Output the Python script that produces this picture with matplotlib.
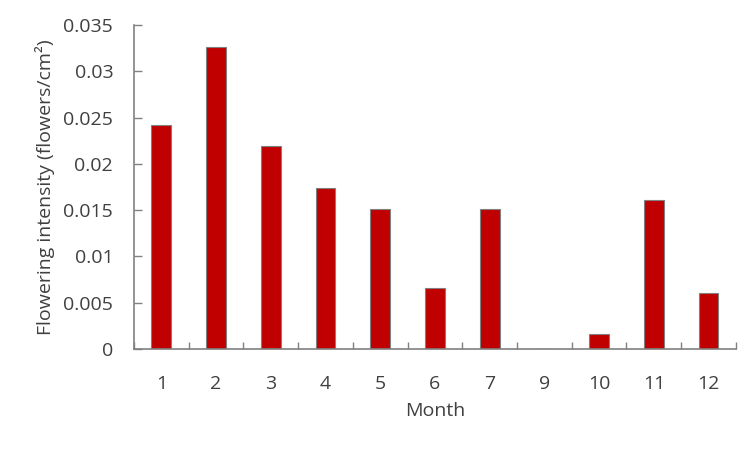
import numpy as np
import matplotlib.pyplot as plt

# 数据
months = ['1', '2', '3', '4', '5', '6', '7', '9', '10', '11', '12']
intensity = [0.0242, 0.0326, 0.0219, 0.0174, 0.0151, 0.0066, 0.0151,
             0.0, 0.0016, 0.0161, 0.0060]

plt.rcParams['font.family'] = ['Open Sans', 'DejaVu Sans']
plt.rcParams['font.size'] = 14
txt_color = '#404040'
axis_color = '#808080'

fig = plt.figure(figsize=(7.54, 4.53), dpi=100)
ax = fig.add_axes([0.1777, 0.2296, 0.7983, 0.7152])

x = np.arange(len(months))
ax.bar(x, intensity, width=0.36, color='#C00000', edgecolor='#808080', linewidth=0.8)

ax.set_xlim(-0.5, len(months) - 0.5)
ax.set_ylim(0, 0.035)
ax.set_yticks(np.arange(0, 0.0351, 0.005))
ax.set_yticklabels(['0', '0.005', '0.01', '0.015', '0.02', '0.025', '0.03', '0.035'])

# x轴刻度在类别之间, 标签在类别中心
ax.set_xticks(x)
ax.set_xticklabels(months)
ax.set_xticks(np.arange(-0.5, len(months)), minor=True)
ax.tick_params(axis='x', which='major', length=0, pad=19, colors=txt_color)
ax.tick_params(axis='x', which='minor', direction='in', length=5, color=axis_color, width=1)
ax.tick_params(axis='y', direction='in', length=6, color=axis_color, width=1, pad=15,
               labelcolor=txt_color)

for s in ['top', 'right']:
    ax.spines[s].set_visible(False)
for s in ['left', 'bottom']:
    ax.spines[s].set_color(axis_color)
    ax.spines[s].set_linewidth(1.2)

ax.set_xlabel('Month', color=txt_color, labelpad=6)
ax.set_ylabel('Flowering intensity (flowers/cm²)', color=txt_color, labelpad=6)

fig.savefig('out.png', dpi=100)
